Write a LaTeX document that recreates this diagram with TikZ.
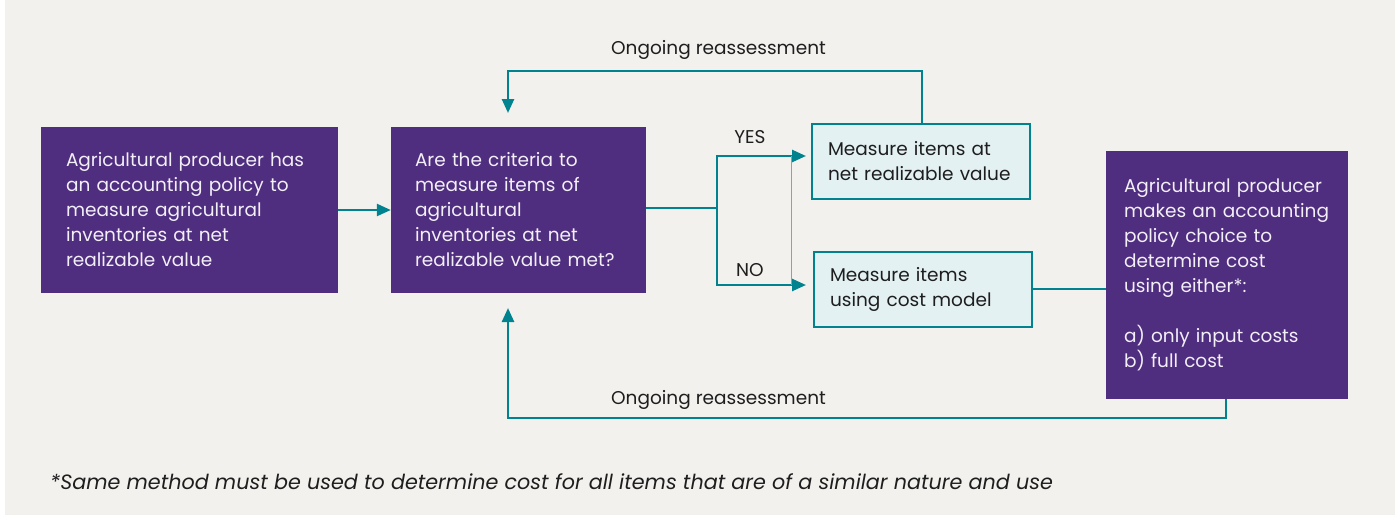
\documentclass[tikz,border=0pt]{standalone}
\usepackage{fontspec}
\setmainfont{Poppins}
\usetikzlibrary{arrows.meta}
\definecolor{bg}{HTML}{F2F1EE}
\definecolor{purp}{HTML}{4F2D7F}
\definecolor{tealc}{HTML}{00838F}
\definecolor{tealthin}{HTML}{5FB5BC}
\definecolor{lb}{HTML}{E3F1F3}
\definecolor{ink}{HTML}{1E1E1E}
\definecolor{boxtxt}{HTML}{F2EFF7}
\tikzset{
  pbox/.style={fill=purp, text=boxtxt, align=left, inner ysep=0pt, anchor=center},
  lbox/.style={fill=lb, draw=tealc, line width=2.5pt, text=ink, align=left, inner ysep=0pt, anchor=center},
  conn/.style={draw=tealc, line width=2.5pt},
  arr/.style={conn, -{Triangle[length=14pt,width=12pt]}},
  lbl/.style={text=ink, inner sep=0pt},
  txt/.style={font=\fontsize{18.5}{25}\selectfont}
}
\begin{document}
\begin{tikzpicture}[x=1pt,y=-1pt, txt]
\useasboundingbox (0,0) rectangle (1395,515);
\fill[white] (0,0) rectangle (1395,515);
\fill[bg] (5,0) rectangle (1395,515);

\node[pbox, text width=247pt, inner xsep=25pt, minimum height=166pt] (b1) at (189.5,210)
 {Agricultural producer has\\an accounting policy to\\measure agricultural\\inventories at net\\realizable value};
\node[pbox, text width=207pt, inner xsep=24pt, minimum height=166pt] (b2) at (518.5,210)
 {Are the criteria to\\measure items of\\agricultural\\inventories at net\\realizable value met?};
\node[lbox, text width=186pt, inner xsep=16pt, minimum height=75pt] (b3) at (921,161.5)
 {Measure items at\\net realizable value};
\node[lbox, text width=186pt, inner xsep=16pt, minimum height=75pt] (b4) at (923,289.5)
 {Measure items\\using cost model};
\node[pbox, text width=206pt, inner xsep=18pt, minimum height=248pt] (b5) at (1227,275)
 {Agricultural producer\\makes an accounting\\policy choice to\\determine cost\\using either*:\\[25pt]a) only input costs\\b) full cost};

\coordinate (split) at (717,208);
\coordinate (yes) at (806,156);
\coordinate (no) at (806,285);
\coordinate (yb) at (791,156);
\coordinate (nb) at (791,285);
\coordinate (topr) at (922,71);
\coordinate (topl) at (508,71);
\coordinate (toptip) at (508,113);
\coordinate (botr) at (1226,418);
\coordinate (botl) at (508,418);
\coordinate (bottip) at (508,308);

\draw[arr] (b1) -- (b2);
\draw[conn] (b2.east |- split) -- (split);
\draw[arr] (split) |- (yes);
\draw[arr] (split) |- (no);
\draw[draw=tealthin, line width=0.8pt] (yb) -- (nb);
\draw[arr] (b3.north -| topr) -- (topr) -- (topl) -- (toptip);
\draw[conn] (b4.east |- 0,289) -- (b5.west |- 0,289);
\draw[arr] (b5.south -| botr) -- (botr) -- (botl) -- (bottip);

\node[lbl] (l1) at (718.5,50) {Ongoing reassessment};
\node[lbl] (l2) at (718.5,400) {Ongoing reassessment};
\node[lbl] (yl) at (750,137) {YES};
\node[lbl] (nl) at (750,270) {NO};
\node[lbl, anchor=west, font=\fontsize{20.7}{24}\selectfont\itshape] (fn) at (50,482)
 {*Same method must be used to determine cost for all items that are of a similar nature and use};
\end{tikzpicture}
\end{document}
